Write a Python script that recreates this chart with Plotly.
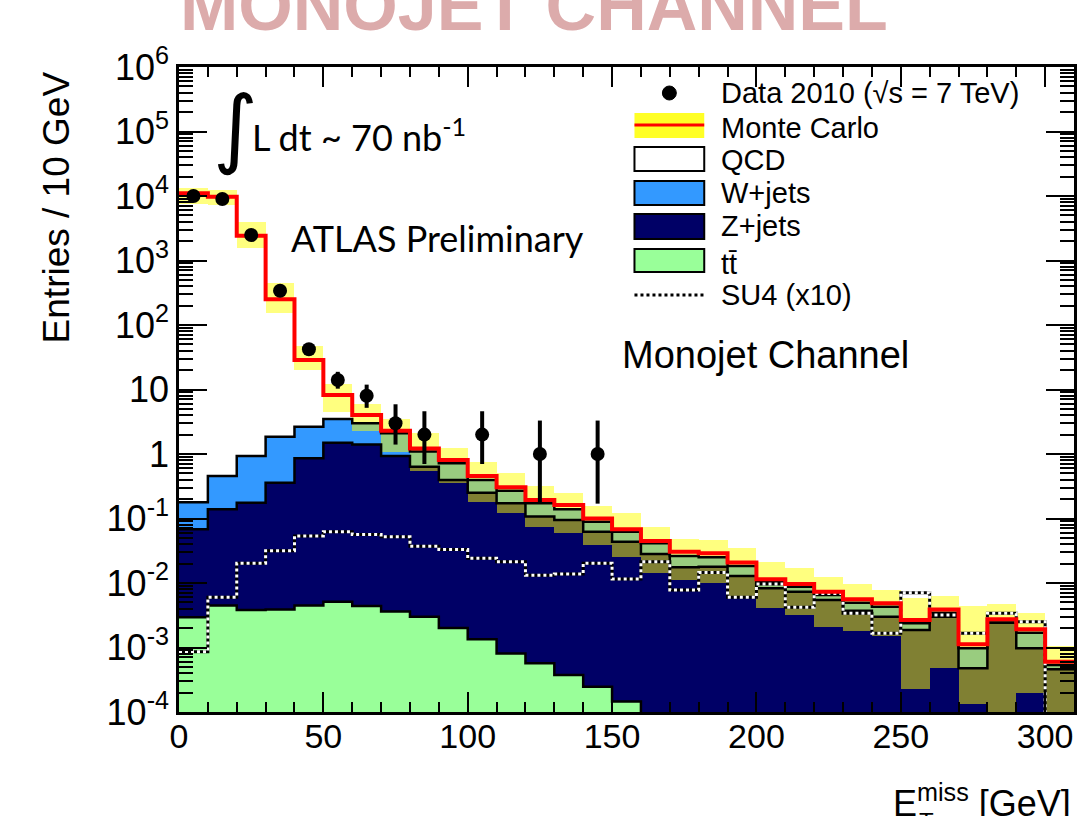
import numpy as np
import plotly.graph_objects as go

# ---------------- data ----------------
bin_edges = [0, 10, 20, 30, 40, 50, 60, 70, 80, 90, 100, 110, 120, 130, 140, 150,
             160, 170, 180, 190, 200, 210, 220, 230, 240, 250, 260, 270, 280, 290, 300, 310]

ttbar = [0.00294, 0.00447, 0.0038, 0.0039, 0.00447, 0.0051, 0.0044, 0.0036, 0.0030, 0.0020,
         0.00134, 0.00081, 0.00057, 0.000375, 0.000247, 0.000145, 0, 0, 0, 0,
         0, 0, 0, 0, 0, 0, 0, 0, 0, 0, 0]
zjets = [0.0651, 0.1345, 0.1722, 0.355, 0.8525, 1.495, 1.396, 0.926, 0.632, 0.393,
         0.2497, 0.1712, 0.1064, 0.0946, 0.0618, 0.0435, 0.0282, 0.0175, 0.0179, 0.0128,
         0.00826, 0.00733, 0.00545, 0.00372, 0.0030, 0.00187, 0.0030, 0.000475, 0.00243, 0.00097,
         0.000459]
wjets = [0.110, 0.317, 0.754, 1.491, 1.793, 1.99, 1.60, 1.16, 0.455, 0.321,
         0.144, 0.098, 0.065, 0.044, 0.027, 0.0188, 0.0130, 0.0087, 0.0072, 0.0056,
         0.00224, 0.00144, 0.00107, 0.00123, 0.0013, 0.0005, 0.00047, 0.000495, 0.00001, 0.00073,
         0.000077]
qcd = [11000, 9770, 2425, 248, 26.05, 4.71, 1.03, 0.21, 0.13, 0.091,
       0.061, 0.035, 0.022, 0.023, 0.011, 0.0056, 0.0036, 0.0044, 0.0037, 0.0023,
       0.0009, 0.00087, 0.00081, 0.00063, 0.00055, 0.0003, 0.00043, 0.00015, 0.00031, 0.00021,
       0.000067]
mc_band_hi = [13500, 12400, 3980, 443, 48, 12, 5.9, 3.45, 2.09, 1.25,
              0.76, 0.513, 0.32, 0.246, 0.156, 0.12, 0.0746, 0.0475, 0.0464, 0.0345,
              0.0214, 0.0169, 0.0122, 0.00964, 0.00778, 0.00578, 0.00628, 0.0044, 0.00472, 0.00339,
              0.00105]
mc_band_lo = [7500, 7240, 1550, 155, 20, 4.5, 2.3, 1.09, 0.55, 0.35,
              0.182, 0.12, 0.0746, 0.059, 0.039, 0.0251, 0.0141, 0.0111, 0.0101, 0.00578,
              0.00404, 0.00319, 0.0021, 0.00182, 0.00151, 0.000225, 0.000475, 0.000133, 0.00005, 0.000195,
              0.00005]
su4_x10 = [0.00086, 0.0060, 0.0202, 0.0316, 0.0536, 0.0625, 0.0565, 0.052, 0.0370, 0.0330,
           0.0242, 0.0214, 0.0132, 0.0138, 0.0202, 0.0115, 0.0214, 0.00778, 0.0145, 0.0060,
           0.00964, 0.0042, 0.0069, 0.00339, 0.00166, 0.00708, 0.00319, 0.00166, 0.00339, 0.00251,
           0.00005]

data_x = [5, 15, 25, 35, 45, 55, 65, 75, 85, 105, 125, 145]
data_y = [10000, 9000, 2480, 340, 42, 14, 8, 3, 2, 2, 1, 1]
data_err_hi = [100, 95, 50, 19, 7.5, 4.8, 3.9, 2.9, 2.6, 2.6, 2.3, 2.3]
data_err_lo = [100, 95, 50, 18, 6.5, 3.7, 2.8, 1.6, 1.3, 1.3, 0.83, 0.83]

y_tick_vals = [1e-4, 1e-3, 1e-2, 1e-1, 1, 10, 1e2, 1e3, 1e4, 1e5, 1e6]
y_tick_text = ["10<sup>-4</sup>", "10<sup>-3</sup>", "10<sup>-2</sup>", "10<sup>-1</sup>", "1", "10",
               "10<sup>2</sup>", "10<sup>3</sup>", "10<sup>4</sup>", "10<sup>5</sup>", "10<sup>6</sup>"]
x_tick_vals = [0, 50, 100, 150, 200, 250, 300]

# ---------------- derived ----------------
edges = np.array(bin_edges, dtype=float)
centers = 0.5 * (edges[:-1] + edges[1:])
widths = np.diff(edges)
c_tt = np.array(ttbar, dtype=float)
c_z = c_tt + np.array(zjets)
c_w = c_z + np.array(wjets)
c_all = c_w + np.array(qcd)

FLOOR = 1e-7  # below the axis range; used only to let outlines drop off the plot


def step(vals):
    v = np.asarray(vals, dtype=float)
    v = np.where(v > 0, v, FLOOR)
    return edges, np.append(v, v[-1])


def nz(vals):
    v = np.asarray(vals, dtype=float)
    return [float(a) if a > 0 else None for a in v]


C_TT = "#99ff99"
C_Z = "#000066"
C_W = "#3399ff"
FONT = "Liberation Sans"

fig = go.Figure()

# stacked fills
for vals, col, name in [(c_all, "white", "QCD"), (c_w, C_W, "W+jets"),
                        (c_z, C_Z, "Z+jets"), (c_tt, C_TT, "tt")]:
    fig.add_trace(go.Bar(x=centers, y=nz(vals), width=widths, name=name,
                         marker=dict(color=col, line=dict(width=0)), showlegend=False))

# stack outlines
for vals in [c_w, c_z, c_tt]:
    sx, sy = step(vals)
    fig.add_trace(go.Scatter(x=sx, y=sy, mode="lines", line=dict(color="black", width=2.5, shape="hv"),
                             showlegend=False, hoverinfo="skip"))

# MC uncertainty band
band_hi = np.array(mc_band_hi)
band_lo = np.array(mc_band_lo)
fig.add_trace(go.Bar(x=centers, y=band_hi - band_lo, base=band_lo, width=widths, name="MC unc.",
                     marker=dict(color="rgba(255,255,0,0.5)", line=dict(width=0)), showlegend=False))

# SU4 (x10) dotted line
sx, sy = step(su4_x10)
fig.add_trace(go.Scatter(x=sx, y=sy, mode="lines", line=dict(color="black", width=3, shape="hv"),
                         showlegend=False, hoverinfo="skip"))
fig.add_trace(go.Scatter(x=sx, y=sy, mode="lines", line=dict(color="white", width=3, shape="hv", dash="dot"),
                         showlegend=False, name="SU4 (x10)"))

# Monte Carlo total
sx, sy = step(c_all)
fig.add_trace(go.Scatter(x=sx, y=sy, mode="lines", line=dict(color="#ff0000", width=4, shape="hv"),
                         showlegend=False, name="Monte Carlo"))

# data
fig.add_trace(go.Scatter(x=data_x, y=data_y, mode="markers", name="Data 2010",
                         marker=dict(color="black", size=14),
                         error_y=dict(type="data", array=data_err_hi, arrayminus=data_err_lo,
                                      color="black", thickness=4, width=0),
                         showlegend=False))

# ---------------- layout helpers ----------------
L, R, T, B = 179, 1077, 67, 712
W_, H_ = R - L, B - T


def px(x):
    return (x - L) / W_


def py(y):
    return (B - y) / H_


shapes = []
annotations = []

# legend (drawn manually, ROOT style)
sx0, sx1 = px(636), px(706)
shapes.append(dict(type="circle", xref="paper", yref="paper", x0=px(664), x1=px(678), y0=py(100), y1=py(86),
                   fillcolor="black", line=dict(color="black", width=1)))
shapes.append(dict(type="rect", xref="paper", yref="paper", x0=sx0, x1=sx1, y0=py(138), y1=py(113),
                   fillcolor="rgba(255,255,0,0.85)", line=dict(width=0)))
shapes.append(dict(type="line", xref="paper", yref="paper", x0=sx0, x1=sx1, y0=py(125), y1=py(125),
                   line=dict(color="#ff0000", width=3)))
for (y0, y1, col) in [(147, 171, "white"), (181, 205, C_W), (214, 239, C_Z), (249, 272, C_TT)]:
    shapes.append(dict(type="rect", xref="paper", yref="paper", x0=sx0, x1=sx1, y0=py(y1), y1=py(y0),
                       fillcolor=col, line=dict(color="black", width=2)))
shapes.append(dict(type="line", xref="paper", yref="paper", x0=sx0, x1=sx1, y0=py(295), y1=py(295),
                   line=dict(color="black", width=3, dash="dot")))

leg_items = [("Data 2010 (√s = 7 TeV)", 93), ("Monte Carlo", 128), ("QCD", 160), ("W+jets", 193),
             ("Z+jets", 226), ("tt\u0304", 264), ("SU4 (x10)", 295)]
for txt, yy in leg_items:
    annotations.append(dict(text=txt, xref="paper", yref="paper", x=px(721), y=py(yy),
                            xanchor="left", yanchor="middle", showarrow=False,
                            font=dict(family=FONT, size=29, color="black")))

# texts in the plot
annotations.append(dict(text="∫", xref="paper", yref="paper", x=px(236), y=py(127),
                        xanchor="center", yanchor="middle", showarrow=False,
                        font=dict(family="DejaVu Sans", size=86, color="black")))
annotations.append(dict(text="L dt ~ 70 nb<sup>-1</sup>", xref="paper", yref="paper", x=px(250), y=py(135),
                        xanchor="left", yanchor="middle", showarrow=False,
                        font=dict(family="Lato", size=36, color="black")))
annotations.append(dict(text="ATLAS Preliminary", xref="paper", yref="paper", x=px(289), y=py(238),
                        xanchor="left", yanchor="middle", showarrow=False,
                        font=dict(family="Lato", size=36, color="black")))
annotations.append(dict(text="Monojet Channel", xref="paper", yref="paper", x=px(621), y=py(355),
                        xanchor="left", yanchor="middle", showarrow=False,
                        font=dict(family=FONT, size=38, color="black")))

# axis titles
annotations.append(dict(text="Entries / 10 GeV", xref="paper", yref="paper", x=px(56), y=py(207),
                        xanchor="center", yanchor="middle", textangle=-90, showarrow=False,
                        font=dict(family=FONT, size=37, color="black")))
annotations.append(dict(text="E<sup>miss</sup> [GeV]", xref="paper", yref="paper", x=px(893), y=py(826),
                        xanchor="left", yanchor="bottom", showarrow=False,
                        font=dict(family=FONT, size=36, color="black")))
annotations.append(dict(text="T", xref="paper", yref="paper", x=px(919), y=py(806),
                        xanchor="left", yanchor="top", showarrow=False,
                        font=dict(family=FONT, size=24, color="black")))

# slide title reflection at the very top
annotations.append(dict(text="<b>MONOJET CHANNEL</b>", xref="paper", yref="paper", x=px(178), y=py(47),
                        xanchor="left", yanchor="bottom", showarrow=False,
                        font=dict(family=FONT, size=70, color="#dcabab")))

fig.update_layout(
    width=1081, height=816,
    margin=dict(l=L, r=1081 - R, t=T, b=816 - B, pad=0),
    paper_bgcolor="white", plot_bgcolor="white",
    barmode="overlay", bargap=0,
    font=dict(family=FONT, color="black"),
    showlegend=False,
    shapes=shapes, annotations=annotations,
)
fig.update_xaxes(range=[0, 310], showgrid=False, zeroline=False,
                 showline=True, linecolor="black", linewidth=2.5, mirror="allticks",
                 ticks="inside", ticklen=20, tickwidth=2, tickcolor="black",
                 tickvals=x_tick_vals, ticktext=[str(v) for v in x_tick_vals],
                 ticklabelstandoff=-8,
                 tickfont=dict(family=FONT, size=34, color="black"),
                 minor=dict(ticks="inside", ticklen=10, tickwidth=1.5, tickcolor="black", dtick=10))
fig.update_yaxes(type="log", range=[-4, 6], showgrid=False, zeroline=False,
                 showline=True, linecolor="black", linewidth=2.5, mirror="allticks",
                 ticks="inside", ticklen=28, tickwidth=2, tickcolor="black",
                 tickvals=y_tick_vals, ticktext=y_tick_text,
                 tickfont=dict(family=FONT, size=36, color="black"),
                 minor=dict(ticks="inside", ticklen=14, tickwidth=1.5, tickcolor="black", dtick="D1"))

fig.write_html("out.html",
               post_script="document.body.style.margin='0';document.body.style.overflow='hidden';")
